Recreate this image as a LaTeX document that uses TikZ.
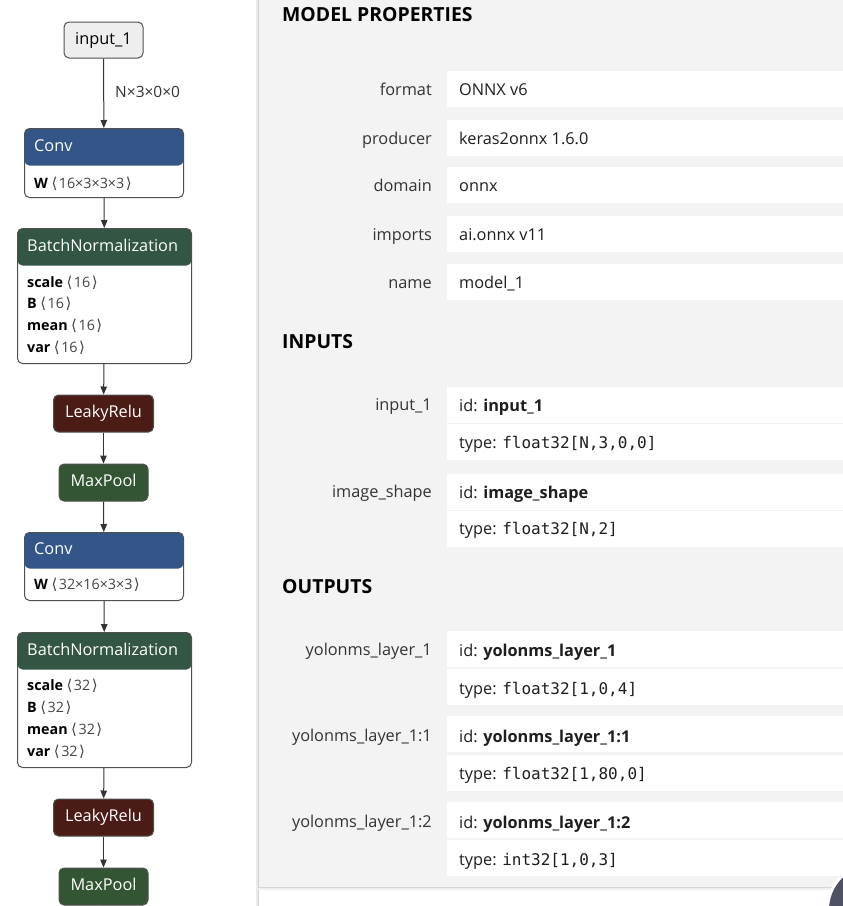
\documentclass[tikz,border=0pt]{standalone}
\usepackage{fontspec}
\setmainfont{Open Sans}
\newfontfamily\dejavu{DejaVu Sans}
\newfontfamily\monof{DejaVu Sans Mono}
\usetikzlibrary{arrows.meta}
\definecolor{linec}{HTML}{333333}
\definecolor{borderc}{HTML}{505050}
\definecolor{convc}{HTML}{335588}
\definecolor{bnc}{HTML}{335544}
\definecolor{reluc}{HTML}{4B1B16}
\definecolor{poolc}{HTML}{335533}
\definecolor{inputc}{HTML}{EEEEEE}
\definecolor{panelbg}{HTML}{F3F3F3}
\definecolor{labelc}{HTML}{333333}
\definecolor{valc}{HTML}{1E1E1E}
\definecolor{dimc}{HTML}{444444}
\definecolor{btnc}{HTML}{4E5262}
\newcommand\LA{\hspace{3.5pt}{\dejavu\fontsize{15}{17}\selectfont ⟨}\hspace{1.5pt}}
\newcommand\RA{\hspace{1.5pt}{\dejavu\fontsize{15}{17}\selectfont ⟩}}
\newcommand\dimtxt[1]{{\color{dimc}\LA#1\RA}}
\newcommand\mono[1]{{\monof\fontsize{16}{18}\selectfont #1}}
\begin{document}
\begin{tikzpicture}[x=1pt,y=-1pt,
  edge/.style={draw=linec, line width=1pt, -{Triangle[length=8pt,width=6.5pt]}},
  opbox/.style={draw=borderc, line width=1pt, fill=white, rounded corners=5pt, anchor=north west, inner sep=0pt},
  hdr/.style 2 args={path picture={\fill[#1] ([yshift=2pt]path picture bounding box.north west) rectangle ([yshift=-#2]path picture bounding box.north east);}},
  pill/.style={draw=borderc, line width=1pt, rounded corners=5pt, inner sep=0pt, text=white, font=\fontsize{16.3}{18}\selectfont, text height=11.5pt, text depth=3pt},
  hdrtext/.style={anchor=west, inner sep=0pt, text=white, font=\fontsize{16.3}{18}\selectfont, text height=11.5pt, text depth=3pt},
  attr/.style={anchor=west, inner sep=0pt, text=black, font=\fontsize{14.3}{16}\selectfont, text height=10.5pt, text depth=2.5pt},
  elabel/.style={anchor=west, inner sep=0pt, text=linec, font=\fontsize{15.5}{17}\selectfont},
  head/.style={anchor=base west, inner sep=0pt, text=black, font=\fontsize{19.4}{21}\selectfont\bfseries},
  plabel/.style={anchor=base east, inner sep=0pt, text=labelc, font=\fontsize{16.3}{18}\selectfont},
  pval/.style={anchor=base west, inner sep=0pt, text=valc, font=\fontsize{16.3}{18}\selectfont},
  valbox/.style={fill=white, anchor=north west, inner sep=0pt, minimum width=396pt, minimum height=36pt}
]
\useasboundingbox (0,0) rectangle (843,906);
\fill[white] (0,0) rectangle (843,906);

% ---------- right panel ----------
\fill[panelbg] (258,0) rectangle (843,887);
\draw[line width=2pt, draw=black!8] (257,0) -- (257,906);
\draw[line width=0.8pt, draw=black!18] (258.5,0) -- (258.5,906);
\draw[line width=2pt, draw=black!6] (258,889) -- (843,889);
\draw[line width=0.8pt, draw=black!16] (258,887.5) -- (843,887.5);

\node[head] (hmp) at (282,21.5) {MODEL PROPERTIES};
\node[head] (hin) at (282,348.5) {INPUTS};
\node[head] (hout) at (282,593.5) {OUTPUTS};

% model properties rows
\node[valbox] (bfmt) at (447,71) {};
\node[valbox] (bprod) at (447,120) {};
\node[valbox] (bdom) at (447,167) {};
\node[valbox] (bimp) at (447,216) {};
\node[valbox] (bname) at (447,264) {};
\node[plabel] (lfmt) at (432,95) {format};
\node[plabel] (lprod) at (432,144) {producer};
\node[plabel] (ldom) at (432,191) {domain};
\node[plabel] (limp) at (432,240) {imports};
\node[plabel] (lname) at (432,288) {name};
\node[pval] (vfmt) at (459,95) {ONNX v6};
\node[pval] (vprod) at (459,144) {keras2onnx 1.6.0};
\node[pval] (vdom) at (459,191) {onnx};
\node[pval] (vimp) at (459,240) {ai.onnx v11};
\node[pval] (vname) at (459,288) {model\_1};

% inputs
\node[valbox] (bi1id) at (447,387) {};
\node[valbox] (bi1ty) at (447,424) {};
\node[valbox] (bi2id) at (447,474) {};
\node[valbox] (bi2ty) at (447,511) {};
\node[plabel] (li1) at (432,410) {input\_1};
\node[plabel] (li2) at (432,497) {image\_shape};
\node[pval] (vi1id) at (459,411) {id: \textbf{input\_1}};
\node[pval] (vi1ty) at (459,448) {type: \mono{float32[N,3,0,0]}};
\node[pval] (vi2id) at (459,498) {id: \textbf{image\_shape}};
\node[pval] (vi2ty) at (459,534.5) {type: \mono{float32[N,2]}};

% outputs
\node[valbox] (bo1id) at (447,631) {};
\node[valbox] (bo1ty) at (447,669) {};
\node[valbox] (bo2id) at (447,716) {};
\node[valbox] (bo2ty) at (447,755) {};
\node[valbox] (bo3id) at (447,802) {};
\node[valbox] (bo3ty) at (447,840) {};
\node[plabel] (lo1) at (432,655.5) {yolonms\_layer\_1};
\node[plabel] (lo2) at (432,741.5) {yolonms\_layer\_1:1};
\node[plabel] (lo3) at (432,827.5) {yolonms\_layer\_1:2};
\node[pval] (vo1id) at (459,656) {id: \textbf{yolonms\_layer\_1}};
\node[pval] (vo1ty) at (459,694) {type: \mono{float32[1,0,4]}};
\node[pval] (vo2id) at (459,742) {id: \textbf{yolonms\_layer\_1:1}};
\node[pval] (vo2ty) at (459,779.5) {type: \mono{float32[1,80,0]}};
\node[pval] (vo3id) at (459,828) {id: \textbf{yolonms\_layer\_1:2}};
\node[pval] (vo3ty) at (459,865) {type: \mono{int32[1,0,3]}};

% floating button
\fill[white] (874,910) circle (48);
\fill[btnc] (874,910) circle (45);

% ---------- graph ----------
\node[pill, fill=inputc, text=black, minimum width=79pt, minimum height=36pt] (in1) at (103.5,40) {input\_1};

\node[opbox, hdr={convc}{37pt}, minimum width=159pt, minimum height=69pt] (conv1) at (24,128) {};
\node[hdrtext] (conv1t) at (34,147) {Conv};
\node[attr] (conv1w) at (34,184) {\textbf{W}\dimtxt{16×3×3×3}};

\node[opbox, hdr={bnc}{37pt}, minimum width=174pt, minimum height=135pt] (bn1) at (17,228) {};
\node[hdrtext] (bn1t) at (27,247) {BatchNormalization};
\node[attr] (bn1a) at (27,283) {\textbf{scale}\dimtxt{16}};
\node[attr] (bn1b) at (27,304) {\textbf{B}\dimtxt{16}};
\node[attr] (bn1c) at (27,326) {\textbf{mean}\dimtxt{16}};
\node[attr] (bn1d) at (27,348) {\textbf{var}\dimtxt{16}};

\node[pill, fill=reluc, minimum width=100pt, minimum height=37pt] (relu1) at (103.5,413.5) {LeakyRelu};
\node[pill, fill=poolc, minimum width=89pt, minimum height=37pt] (pool1) at (103.5,482.5) {MaxPool};

\node[opbox, hdr={convc}{36pt}, minimum width=159pt, minimum height=68pt] (conv2) at (24,532) {};
\node[hdrtext] (conv2t) at (34,550) {Conv};
\node[attr] (conv2w) at (34,585) {\textbf{W}\dimtxt{32×16×3×3}};

\node[opbox, hdr={bnc}{37pt}, minimum width=174pt, minimum height=135pt] (bn2) at (17,632) {};
\node[hdrtext] (bn2t) at (27,651) {BatchNormalization};
\node[attr] (bn2a) at (27,686) {\textbf{scale}\dimtxt{32}};
\node[attr] (bn2b) at (27,708) {\textbf{B}\dimtxt{32}};
\node[attr] (bn2c) at (27,730) {\textbf{mean}\dimtxt{32}};
\node[attr] (bn2d) at (27,752) {\textbf{var}\dimtxt{32}};

\node[pill, fill=reluc, minimum width=100pt, minimum height=37pt] (relu2) at (103.5,817.5) {LeakyRelu};
\node[pill, fill=poolc, minimum width=89pt, minimum height=37pt] (pool2) at (103.5,886.5) {MaxPool};
\coordinate (outend) at (103.5,906);

\draw[edge] (in1) -- node[elabel, pos=0.48, right=11pt] (e1lab) {N×3×0×0} (conv1);
\draw[edge] (conv1) -- (bn1);
\draw[edge] (bn1) -- (relu1);
\draw[edge] (relu1) -- (pool1);
\draw[edge] (pool1) -- (conv2);
\draw[edge] (conv2) -- (bn2);
\draw[edge] (bn2) -- (relu2);
\draw[edge] (relu2) -- (pool2);
\draw[draw=linec, line width=1pt] (pool2) -- (outend);
\end{tikzpicture}
\end{document}
